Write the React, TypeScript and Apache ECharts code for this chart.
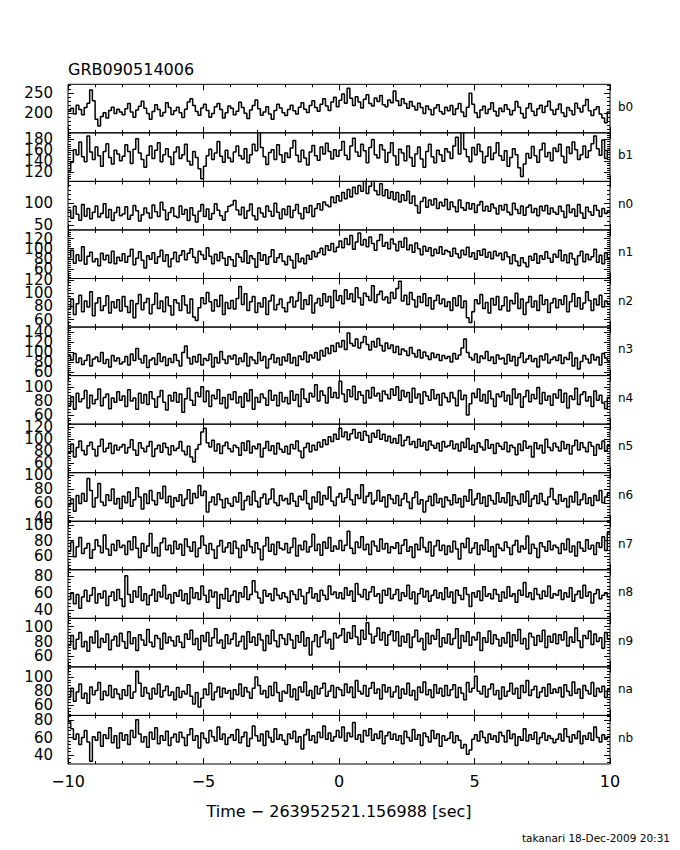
import React, { useEffect, useRef } from 'react';
import * as echarts from 'echarts';

// ---- data: counts per 0.1 s bin, from -10 s to +10 s (200 bins per detector) ----
const BIN_START = -10;
const BIN_WIDTH = 0.1;

const PANEL_NAMES = ['b0', 'b1', 'n0', 'n1', 'n2', 'n3', 'n4', 'n5', 'n6', 'n7', 'n8', 'n9', 'na', 'nb'];

const B0 = [
  205,212,198,220,209,196,214,225,258,231,185,168,192,201,188,207,215,199,210,203,
  196,211,224,203,190,208,217,230,212,199,185,204,221,209,193,202,226,214,197,206,
  215,201,189,210,228,236,219,204,195,213,222,207,190,199,216,224,209,188,201,218,
  212,196,205,227,214,200,187,208,219,233,211,195,203,216,198,185,207,222,213,201,
  194,209,220,206,198,215,226,210,202,219,231,214,205,222,236,218,207,228,240,216,
  232,248,225,262,237,219,241,228,213,235,246,224,218,238,229,244,221,216,233,226,
  255,231,219,236,224,212,229,217,208,225,214,199,218,209,196,213,221,204,198,215,
  206,219,197,211,224,203,192,215,250,222,201,189,208,217,199,210,226,205,193,212,
  204,221,210,196,207,229,215,199,188,213,224,205,194,211,220,202,217,230,208,197,
  210,223,201,192,214,207,196,225,212,203,219,234,206,194,209,216,198,188,176,203,
];
const B1 = [
  122,138,161,152,175,148,139,186,157,143,166,150,131,158,172,147,135,160,153,141,
  149,170,158,136,162,181,155,143,129,151,168,145,160,174,139,152,163,148,134,157,
  166,145,152,171,140,133,158,147,126,108,131,150,162,143,155,176,149,138,160,146,
  139,157,168,150,144,163,137,152,171,159,196,165,148,134,156,161,143,170,152,138,
  155,147,164,178,151,139,160,146,133,157,169,150,142,166,153,173,158,144,161,149,
  160,176,151,143,168,182,157,149,171,159,137,165,180,152,146,170,161,138,156,174,
  150,133,162,155,141,168,147,131,153,166,144,129,158,171,148,137,160,152,140,163,
  157,145,168,184,153,196,162,148,139,165,152,171,158,137,149,166,143,155,174,150,
  142,159,131,147,163,152,128,112,135,154,146,167,150,138,161,173,148,156,141,164,
  158,171,149,137,166,154,175,161,143,152,168,147,159,172,186,163,151,179,145,160,
];
const N0 = [
  84,66,93,75,62,97,71,88,65,80,94,69,77,99,68,86,61,79,91,72,
  76,92,64,73,95,83,60,74,89,78,67,96,81,70,102,85,63,79,90,71,
  68,94,75,86,61,90,73,58,82,97,70,87,64,77,99,84,72,62,81,93,
  96,106,85,74,91,66,83,98,72,63,89,78,69,94,82,71,100,80,65,87,
  74,93,68,84,97,77,65,90,79,95,70,88,99,85,103,96,92,114,101,117,
  105,124,110,131,114,136,121,140,127,150,122,138,155,128,119,144,117,130,111,126,
  108,124,103,119,106,127,100,116,95,78,104,113,91,107,96,110,88,102,94,109,
  86,103,92,81,107,90,84,101,87,99,79,96,104,83,93,82,98,89,76,95,
  85,97,80,74,100,86,77,94,73,91,96,79,88,72,93,83,95,76,89,80,
  75,93,82,68,96,79,87,71,97,78,66,91,81,73,95,84,70,88,77,83,
];
const N1 = [
  82,97,71,88,76,104,69,85,93,74,80,66,91,78,87,72,95,70,83,76,
  90,73,85,99,68,81,94,77,62,86,79,92,71,84,97,75,88,64,80,93,
  74,87,96,78,91,100,83,72,95,88,79,102,85,70,89,76,93,81,67,84,
  78,65,90,83,74,96,71,86,80,63,92,77,88,69,84,98,73,82,90,75,
  68,85,77,62,90,74,81,70,87,79,95,84,92,101,88,106,97,110,94,103,
  115,102,120,108,126,99,113,131,107,118,104,123,110,97,116,128,105,112,100,119,
  109,96,114,103,121,98,107,93,111,100,88,105,95,102,86,99,91,104,89,97,
  94,85,101,90,82,97,88,103,84,92,79,96,87,99,83,93,80,95,86,91,
  78,93,84,70,88,75,66,82,72,64,85,77,90,71,86,79,94,81,73,89,
  83,97,76,88,72,91,80,68,86,95,74,89,78,84,99,73,87,70,92,81,
];
const N2 = [
  76,91,68,84,97,72,88,79,102,66,85,93,74,81,96,70,87,78,90,73,
  95,80,71,89,63,84,98,75,86,92,69,83,100,77,88,72,94,81,67,90,
  85,74,96,82,70,91,64,59,78,93,84,101,87,73,90,80,97,68,86,77,
  89,76,92,110,83,99,74,87,95,71,85,79,93,68,88,97,75,83,91,78,
  72,86,94,79,88,101,76,90,83,97,70,85,92,81,99,87,95,78,104,89,
  96,84,105,91,99,87,108,93,82,100,95,89,111,86,98,103,90,94,85,101,
  92,107,118,88,97,83,101,90,79,95,86,99,81,93,76,89,97,84,91,80,
  87,74,93,81,96,78,88,63,56,72,90,84,98,77,86,70,92,82,95,75,
  81,94,73,89,84,100,77,91,68,86,95,79,88,74,97,83,90,71,85,92,
  78,90,83,96,72,87,99,80,93,76,85,102,89,74,91,82,97,79,88,84,
];
const N3 = [
  92,84,97,79,88,75,83,94,72,86,90,81,99,77,85,70,93,82,88,76,
  80,91,74,96,83,107,86,78,93,69,84,88,75,97,81,90,73,87,79,95,
  83,72,99,112,88,76,91,80,95,74,87,83,96,70,89,78,101,85,77,92,
  86,94,75,88,81,97,72,90,84,77,99,83,91,68,86,95,79,88,74,90,
  82,96,78,89,73,92,85,100,80,94,88,99,84,103,92,108,97,113,101,118,
  110,123,105,138,117,112,126,108,119,131,115,104,121,110,127,113,102,118,107,114,
  99,111,95,106,102,93,109,97,90,104,88,100,92,85,98,89,95,83,93,87,
  91,80,97,86,94,108,126,99,89,84,96,79,92,87,101,83,90,77,94,86,
  88,76,95,82,91,73,89,98,79,86,93,81,87,70,92,84,96,78,85,90,
  83,94,77,89,85,99,72,88,66,81,93,86,78,95,84,90,74,97,88,82,
];
const N4 = [
  74,86,68,91,79,83,95,70,88,76,82,97,73,85,90,69,84,78,93,81,
  87,72,96,80,84,68,91,77,89,75,93,83,71,86,95,78,67,88,80,92,
  78,90,64,83,98,81,74,92,86,100,79,94,72,88,83,96,76,85,70,89,
  82,93,77,86,71,91,80,96,68,85,78,90,84,74,95,81,88,73,92,79,
  85,76,94,81,89,72,97,83,78,91,86,103,80,94,88,77,99,85,92,84,
  108,90,79,96,86,101,82,93,88,77,95,84,99,87,91,80,94,89,83,97,
  88,100,81,95,86,92,78,98,84,90,76,93,87,81,96,83,89,74,91,85,
  79,92,84,73,95,82,88,60,76,91,85,97,80,89,77,94,83,72,90,86,
  93,80,88,75,97,84,90,71,86,95,79,89,83,99,76,92,81,87,74,90,
  84,96,78,91,70,87,82,98,75,89,93,80,86,72,94,81,88,77,69,85,
];
const N5 = [
  78,92,70,86,97,81,74,89,95,83,72,88,100,79,85,93,76,90,82,87,
  91,77,86,99,82,73,94,85,79,88,96,71,84,90,78,93,86,74,89,81,
  85,96,80,74,88,70,62,83,91,112,118,94,87,98,80,92,76,89,95,84,
  79,90,86,73,94,81,97,77,88,84,92,70,85,96,81,89,75,93,83,78,
  88,75,91,84,97,80,69,86,93,79,90,82,95,87,99,91,104,96,108,100,
  118,104,112,99,109,116,102,111,98,113,106,95,110,103,115,100,108,97,105,94,
  101,93,107,89,98,104,91,96,86,100,88,95,82,97,90,85,93,80,96,87,
  89,97,84,92,80,95,86,101,83,90,78,94,87,82,99,85,91,76,93,88,
  83,95,79,90,86,74,92,81,97,85,88,70,94,84,90,77,100,86,81,93,
  87,80,96,84,91,75,89,98,82,94,86,79,95,88,73,91,84,97,80,90,
];
const N6 = [
  58,66,49,71,60,74,63,95,78,55,68,88,62,57,72,64,80,59,67,53,
  70,61,76,56,65,82,69,52,73,60,78,64,58,75,67,84,61,70,55,68,
  63,72,57,66,79,60,74,68,85,71,77,48,62,69,58,73,65,54,67,60,
  56,69,62,75,51,64,70,58,77,63,55,68,73,59,66,80,61,57,71,64,
  67,59,74,63,56,70,65,78,60,52,69,62,76,58,71,66,83,63,57,69,
  74,62,68,80,65,58,72,67,86,61,70,75,59,64,78,63,69,55,72,66,
  60,71,57,66,74,62,53,68,76,59,65,48,63,70,57,73,61,67,55,69,
  64,58,72,61,67,55,70,63,79,58,66,74,60,69,56,71,64,59,75,62,
  68,61,75,57,70,64,59,73,62,77,56,66,71,60,74,63,58,69,81,65,
  59,72,63,67,55,70,62,76,58,65,73,60,68,57,71,64,78,61,69,74,
];
const N7 = [
  66,78,59,72,84,63,70,76,57,68,81,73,64,87,69,61,75,67,80,71,
  74,62,79,68,85,70,58,76,66,73,89,64,71,60,77,83,68,74,63,79,
  69,75,61,82,72,66,78,59,70,86,74,63,76,68,57,73,80,65,71,77,
  63,79,70,58,74,67,81,72,64,77,69,55,73,84,66,75,62,78,70,68,
  76,64,71,83,60,74,68,79,65,72,88,67,75,61,78,70,84,66,73,69,
  80,67,74,92,70,63,78,71,85,68,75,62,79,73,66,82,69,76,64,72,
  70,77,63,74,81,66,72,58,75,68,84,71,65,78,60,73,80,67,74,62,
  73,65,79,69,56,76,71,83,64,70,77,62,74,68,81,66,72,59,75,70,
  67,78,71,62,74,80,65,73,69,86,63,75,70,58,77,72,66,79,68,74,
  71,63,76,68,82,65,73,60,78,70,66,81,69,74,62,77,71,85,67,90,
];
const N8 = [
  52,60,47,58,42,55,63,50,57,66,48,59,54,62,45,56,61,51,64,53,
  44,80,58,49,62,55,67,51,59,46,57,64,50,61,55,69,53,58,48,60,
  56,63,51,59,47,66,54,60,52,68,57,49,63,55,61,42,58,53,65,50,
  57,62,49,60,55,67,52,58,74,61,54,48,63,56,59,51,65,57,53,60,
  55,49,62,58,52,64,56,47,60,66,54,59,50,63,57,52,68,58,61,54,
  60,53,66,57,62,50,71,58,55,64,52,61,67,56,59,48,63,57,65,53,
  58,64,51,60,56,69,53,61,47,59,65,55,62,50,57,63,54,60,52,66,
  55,61,48,63,57,52,66,58,44,60,55,62,51,67,56,59,53,64,58,50,
  61,54,67,56,59,49,63,57,72,55,60,52,65,58,53,62,56,68,54,59,
  57,63,52,60,55,66,50,58,62,54,69,56,61,48,59,64,53,57,60,55,
];
const N9 = [
  75,88,70,83,92,73,80,67,86,78,94,72,84,79,90,69,82,87,74,91,
  80,71,93,77,85,68,89,82,75,96,79,73,88,84,70,91,78,86,81,74,
  87,79,72,90,83,95,76,84,69,88,80,92,74,85,97,78,82,71,89,77,
  83,91,74,80,87,70,93,79,86,75,90,82,68,88,77,95,81,73,89,84,
  76,90,82,71,88,79,93,74,85,62,80,89,73,86,94,78,83,70,91,85,
  88,97,79,92,84,101,86,76,95,83,105,90,78,87,98,82,92,75,89,94,
  81,93,74,87,79,90,72,86,95,80,84,69,91,77,88,83,96,73,85,78,
  90,76,84,97,71,88,80,93,75,86,82,92,68,85,79,94,77,89,83,74,
  85,78,92,73,89,81,96,77,84,70,91,86,75,88,80,95,72,87,79,90,
  77,89,82,93,74,86,79,98,81,72,88,84,94,76,90,80,85,71,92,83,
];
const NA = [
  72,84,66,79,90,70,77,63,86,75,81,92,68,80,74,88,71,83,76,69,
  82,74,88,70,79,108,91,73,85,77,69,84,76,90,72,81,87,74,79,68,
  85,71,80,76,89,73,62,78,58,70,83,75,91,68,79,86,72,84,77,81,
  69,82,75,90,73,85,79,70,84,100,88,76,81,71,87,74,92,78,66,80,
  77,89,72,83,68,86,79,93,74,81,70,87,76,84,91,73,80,88,71,85,
  82,74,90,78,86,71,95,80,76,88,73,84,92,77,83,69,89,79,85,72,
  79,87,70,83,76,91,74,81,68,86,78,93,75,82,71,89,77,84,73,88,
  74,82,89,71,85,77,68,92,79,84,101,80,76,87,72,83,90,75,81,69,
  86,73,80,91,76,84,70,88,78,95,74,82,87,71,79,85,73,90,77,83,
  78,85,72,89,80,74,93,77,83,70,88,81,76,92,73,84,79,87,71,82,
];
const NB = [
  78,70,58,64,52,60,68,55,33,61,57,66,50,63,59,71,54,62,48,65,
  57,63,52,68,60,80,64,55,61,49,66,58,71,53,62,57,67,51,60,64,
  55,66,60,51,63,70,57,62,48,65,59,54,68,61,56,72,58,64,52,60,
  63,57,69,54,61,66,50,59,73,62,56,64,51,67,60,55,70,58,63,57,
  52,64,59,67,55,61,47,63,69,57,62,54,66,60,73,58,65,56,61,68,
  60,72,56,65,61,77,58,63,55,68,62,70,57,64,59,67,53,62,66,58,
  64,57,62,53,67,60,56,69,58,63,51,65,61,55,68,59,64,50,62,57,
  59,66,54,62,57,48,52,41,46,58,63,56,67,60,54,64,58,62,55,66,
  62,55,68,59,64,51,61,57,70,56,63,58,66,53,60,65,57,62,59,54,
  58,64,56,70,61,55,63,59,67,53,62,58,65,57,72,60,55,63,58,61,
];

const SERIES_DATA = [B0, B1, N0, N1, N2, N3, N4, N5, N6, N7, N8, N9, NA, NB];

// y-axis ranges and labelled values of each panel
const Y_MIN = [151, 103, 40, 41, 49, 53, 47, 44, 35, 42, 30, 46, 46, 30];
const Y_MAX = [272, 192, 149, 137, 122, 150, 116, 125, 103, 105, 87, 111, 114, 85];
const Y_LABELS = [
  [200, 250],
  [120, 140, 160, 180],
  [50, 100],
  [60, 80, 100, 120],
  [60, 80, 100, 120],
  [60, 80, 100, 120, 140],
  [60, 80, 100],
  [60, 80, 100, 120],
  [40, 60, 80, 100],
  [60, 80, 100],
  [40, 60, 80],
  [60, 80, 100],
  [60, 80, 100],
  [40, 60, 80],
];
const Y_MINOR_STEP = [10, 4, 10, 4, 4, 4, 4, 4, 4, 4, 4, 4, 4, 4];

const X_MIN = -10;
const X_MAX = 10;
const X_MAJOR = 5;

const TITLE = 'GRB090514006';
const X_TITLE = 'Time \u2212 263952521.156988 [sec]';
const FOOTER = 'takanari 18-Dec-2009 20:31';

// ---- layout ----
const W = 680;
const H = 850;
const PLOT_LEFT = 68;
const PLOT_RIGHT = 610;
const PLOT_TOP = 84.3;
const PLOT_BOTTOM = 764;
const FONT = 'DejaVu Sans';

function minorValues(min: number, max: number, step: number, majors: number[]) {
  const out: number[] = [];
  for (let v = Math.ceil(min / step) * step; v <= max; v += step) {
    if (!majors.includes(v)) out.push(v);
  }
  return out;
}

function buildOption() {
  const n = PANEL_NAMES.length;
  const ph = (PLOT_BOTTOM - PLOT_TOP) / n;
  const grids: any[] = [];
  const xAxes: any[] = [];
  const yAxes: any[] = [];
  const series: any[] = [];
  const graphics: any[] = [];
  const tickStyle = { color: '#000', width: 1 };

  PANEL_NAMES.forEach((name, i) => {
    const top = PLOT_TOP + i * ph;
    grids.push({
      left: PLOT_LEFT,
      width: PLOT_RIGHT - PLOT_LEFT,
      top,
      height: ph,
      show: true,
      borderColor: '#000',
      borderWidth: 1,
      backgroundColor: 'transparent',
      containLabel: false,
    });
    const last = i === n - 1;
    const xBase = {
      type: 'value',
      gridIndex: i,
      min: X_MIN,
      max: X_MAX,
      interval: X_MAJOR,
      splitLine: { show: false },
      minorSplitLine: { show: false },
      axisLine: { show: false, onZero: false },
      axisTick: { show: true, inside: true, length: 6, lineStyle: tickStyle },
      minorTick: { show: true, splitNumber: 5, length: 3, lineStyle: tickStyle },
    };
    xAxes.push({
      ...xBase,
      position: 'bottom',
      axisLabel: last
        ? {
            show: true,
            margin: 9,
            fontSize: 16,
            fontFamily: FONT,
            color: '#000',
            hideOverlap: false,
            formatter: (v: number) => (v < 0 ? '\u2212' + Math.abs(v) : String(v)),
          }
        : { show: false },
    });
    xAxes.push({ ...xBase, position: 'top', axisLabel: { show: false } });

    const labels = Y_LABELS[i];
    const minors = minorValues(Y_MIN[i], Y_MAX[i], Y_MINOR_STEP[i], labels);
    const yBase = {
      type: 'value',
      gridIndex: i,
      min: Y_MIN[i],
      max: Y_MAX[i],
      splitLine: { show: false },
      axisLine: { show: false, onZero: false },
    };
    const firstY = yAxes.length;
    // one axis per labelled value, so that ECharts never drops an overlapping label
    labels.forEach((v) => {
      yAxes.push({
        ...yBase,
        position: 'left',
        axisTick: { show: true, inside: true, length: 6, customValues: [v], lineStyle: tickStyle },
        axisLabel: {
          show: true,
          customValues: [v],
          margin: 15,
          fontSize: 15,
          fontFamily: FONT,
          color: '#000',
          hideOverlap: false,
        },
      });
    });
    yAxes.push({
      ...yBase,
      position: 'left',
      axisTick: { show: true, inside: true, length: 3, customValues: minors, lineStyle: tickStyle },
      axisLabel: { show: false },
    });
    yAxes.push({
      ...yBase,
      position: 'right',
      axisTick: { show: true, inside: true, length: 6, customValues: labels, lineStyle: tickStyle },
      axisLabel: { show: false },
    });
    yAxes.push({
      ...yBase,
      position: 'right',
      axisTick: { show: true, inside: true, length: 3, customValues: minors, lineStyle: tickStyle },
      axisLabel: { show: false },
    });

    const vals = SERIES_DATA[i];
    const data = vals.map((v, k) => [BIN_START + k * BIN_WIDTH, v]);
    data.push([BIN_START + vals.length * BIN_WIDTH, vals[vals.length - 1]]);
    series.push({
      type: 'line',
      name,
      xAxisIndex: 2 * i,
      yAxisIndex: firstY,
      data,
      step: 'end',
      symbol: 'none',
      showSymbol: false,
      silent: true,
      clip: true,
      lineStyle: { color: '#000', width: 1.5 },
    });

    graphics.push({
      type: 'text',
      x: PLOT_RIGHT + 8,
      y: top + ph / 2 - 2,
      style: { text: name, font: `12px "${FONT}"`, fill: '#000', textAlign: 'left', textVerticalAlign: 'middle' },
    });
  });

  graphics.push({
    type: 'text',
    x: PLOT_LEFT,
    y: 69,
    style: { text: TITLE, font: `16px "${FONT}"`, fill: '#000', textAlign: 'left', textVerticalAlign: 'middle' },
  });
  graphics.push({
    type: 'text',
    x: (PLOT_LEFT + PLOT_RIGHT) / 2,
    y: 811,
    style: { text: X_TITLE, font: `16px "${FONT}"`, fill: '#000', textAlign: 'center', textVerticalAlign: 'middle' },
  });
  graphics.push({
    type: 'text',
    x: 670,
    y: 838,
    style: { text: FOOTER, font: `10.5px "${FONT}"`, fill: '#000', textAlign: 'right', textVerticalAlign: 'middle' },
  });

  return {
    animation: false,
    backgroundColor: '#fff',
    grid: grids,
    xAxis: xAxes,
    yAxis: yAxes,
    series,
    graphic: graphics,
  };
}

export default function App() {
  const ref = useRef<HTMLDivElement>(null);
  useEffect(() => {
    if (!ref.current) return;
    const chart = echarts.init(ref.current, undefined, { renderer: 'svg' });
    chart.setOption(buildOption() as any);
    return () => chart.dispose();
  }, []);
  return (
    <div
      ref={ref}
      style={{ position: 'fixed', left: 0, top: 0, width: W, height: H, background: '#fff' }}
    />
  );
}
